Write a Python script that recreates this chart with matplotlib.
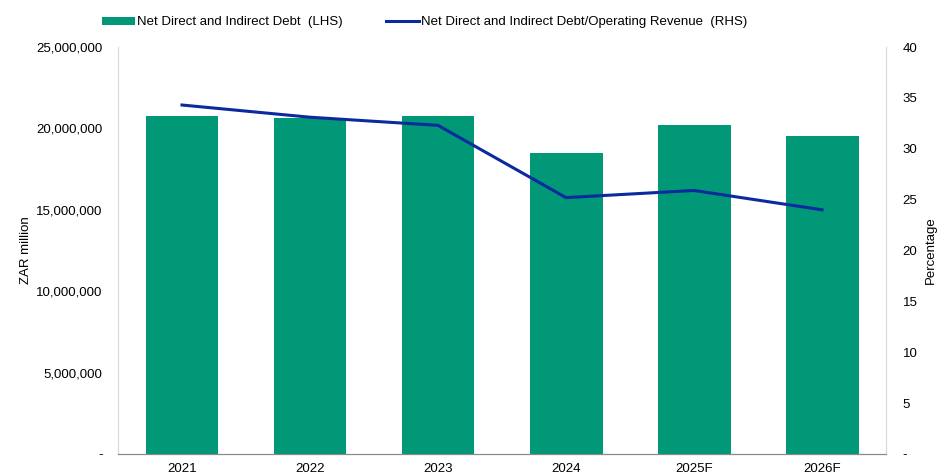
import matplotlib
matplotlib.use("Agg")
import matplotlib.pyplot as plt
from matplotlib.ticker import FuncFormatter

plt.rcParams['font.family'] = ['Liberation Sans', 'DejaVu Sans']

years = ["2021", "2022", "2023", "2024", "2025F", "2026F"]
debt = [20760000, 20640000, 20760000, 18490000, 20210000, 19530000]
debt_ratio = [34.3, 33.1, 32.3, 25.2, 25.9, 24.0]

bar_color = "#009877"
line_color = "#0a2a9e"

fig = plt.figure(figsize=(9.38, 4.74), dpi=100)
ax = fig.add_axes([0.1258, 0.0422, 0.8188, 0.8586])
x = list(range(len(years)))
b = ax.bar(x, debt, width=0.57, color=bar_color, label="Net Direct and Indirect Debt  (LHS)", zorder=2)
ax.set_xlim(-0.5, len(years) - 0.5)
ax.set_ylim(0, 25000000)
ax.set_yticks(range(0, 25000001, 5000000))
ax.yaxis.set_major_formatter(FuncFormatter(lambda v, p: "-" if v == 0 else f"{int(v):,}"))
ax.set_xticks(x)
ax.set_xticklabels(years)
ax.set_ylabel("ZAR million", fontsize=9.5, labelpad=3)
ax.tick_params(length=0, labelsize=9.5, pad=11)
ax.tick_params(axis="x", pad=6.5)

ax2 = ax.twinx()
l, = ax2.plot(x, debt_ratio, color=line_color, lw=2.2, label="Net Direct and Indirect Debt/Operating Revenue  (RHS)", zorder=3)
ax2.set_ylim(0, 40)
ax2.set_yticks(range(0, 41, 5))
ax2.yaxis.set_major_formatter(FuncFormatter(lambda v, p: "-" if v == 0 else f"{int(v)}"))
ax2.set_ylabel("Percentage", fontsize=9.5, labelpad=5)
ax2.tick_params(length=0, labelsize=9.5, pad=12)

for a in (ax, ax2):
    a.spines["top"].set_visible(False)
    a.spines["left"].set_color("#d9d9d9")
    a.spines["right"].set_color("#d9d9d9")
    a.spines["bottom"].set_color("#898989")

fig.legend([b, l], [b.get_label(), l.get_label()], loc="center", bbox_to_anchor=(0.4526, 0.953),
           ncol=2, frameon=False, fontsize=9.5, handlelength=2.5, handleheight=0.55,
           handletextpad=0.15, columnspacing=3.3)

fig.savefig("out.png", dpi=100)
